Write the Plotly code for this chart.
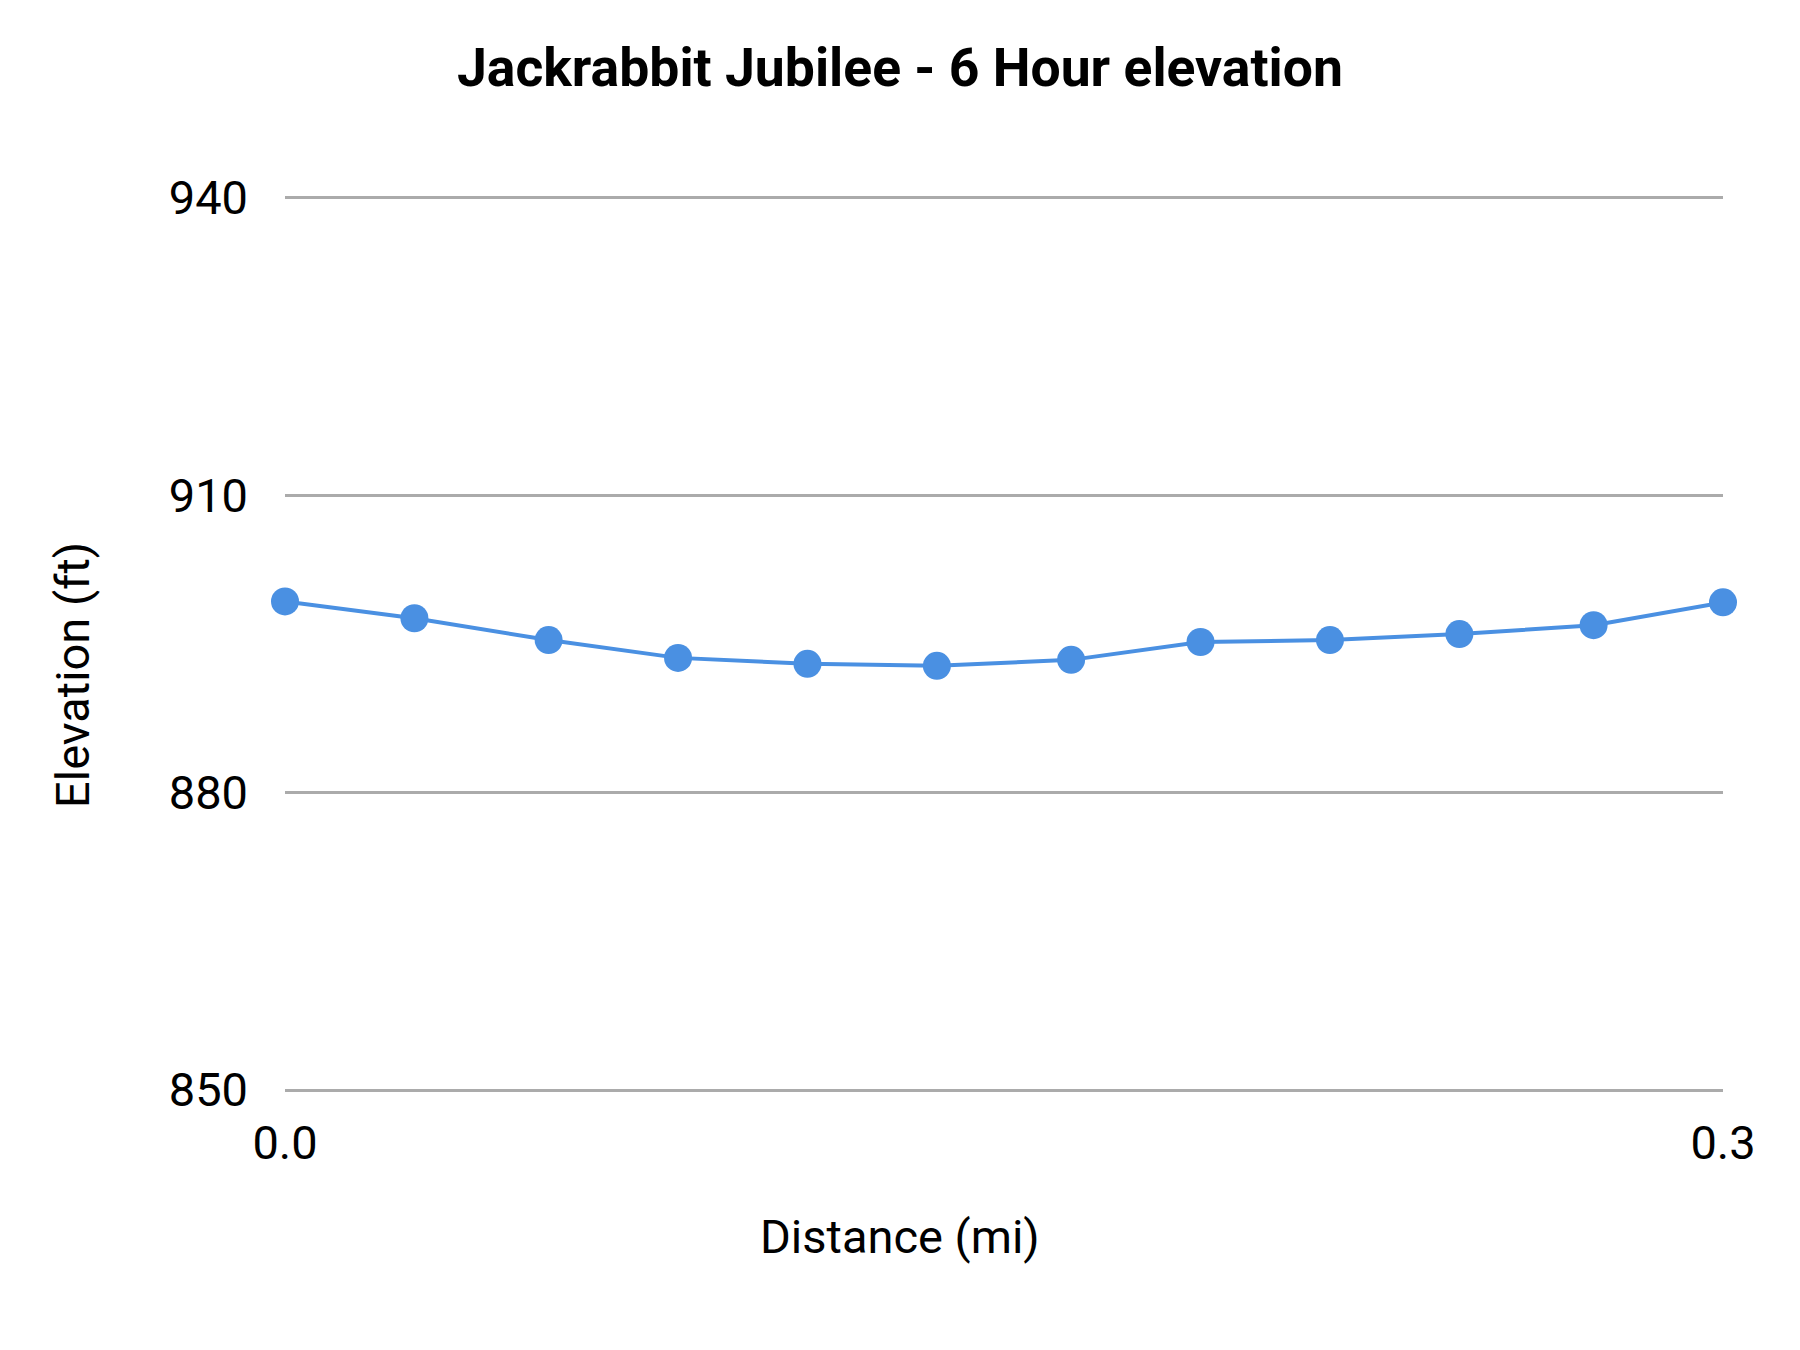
import plotly.graph_objects as go

# elevation profile
distance_mi = [0.0, 0.027, 0.055, 0.082, 0.109, 0.136, 0.164, 0.191, 0.218, 0.245, 0.273, 0.3]
elevation_ft = [899.3, 897.6, 895.4, 893.6, 893.0, 892.8, 893.4, 895.2, 895.4, 896.0, 896.9, 899.2]

y_ticks = [850, 880, 910, 940]
x_ticks = [0.0, 0.3]
x_tick_text = ["0.0", "0.3"]

blue = "#4A90E2"
font = "Roboto"

# page body adds an 8px offset, so margins are shifted by that amount
L, R, T, B = 277, 85, 187, 265

fig = go.Figure()
fig.add_trace(go.Scatter(
    x=distance_mi, y=elevation_ft,
    mode="lines+markers",
    line=dict(color=blue, width=4),
    marker=dict(color=blue, size=28),
    cliponaxis=False,
    showlegend=False,
))

fig.update_layout(
    width=1800, height=1350,
    paper_bgcolor="white", plot_bgcolor="white",
    margin=dict(l=L, r=R, t=T, b=B),
    font=dict(family=font, size=47, color="#000000"),
    title=dict(
        text="<b>Jackrabbit Jubilee - 6 Hour elevation</b>",
        x=0.4955, xref="container", xanchor="center",
        y=1 - 59 / 1350, yref="container", yanchor="middle",
        font=dict(family=font, size=53.5, color="#000000"),
    ),
)

fig.update_xaxes(
    range=[0, 0.3], tickvals=x_ticks, ticktext=x_tick_text,
    showgrid=False, zeroline=False, showline=False,
    ticks="", ticklabelstandoff=18,
)
# range padded a little so the 850 and 940 gridlines are drawn
fig.update_yaxes(
    range=[849.7, 940.3], tickvals=y_ticks,
    showgrid=True, gridcolor="#ABABAB", gridwidth=3,
    zeroline=False, showline=False,
    ticks="", ticklabelstandoff=36,
)

pw = 1800 - L - R
ph = 1350 - T - B

# axis titles are centred on the whole figure, not on the plot area
fig.add_annotation(
    text="Distance (mi)", xref="paper", yref="paper",
    x=(892 - L) / pw, y=(1350 - B - 1228) / ph,
    xanchor="center", yanchor="middle", showarrow=False,
    font=dict(family=font, size=47, color="#000000"),
)
fig.add_annotation(
    text="Elevation (ft)", xref="paper", yref="paper",
    x=(64 - L) / pw, y=(1350 - B - 667) / ph,
    xanchor="center", yanchor="middle", textangle=-90, showarrow=False,
    font=dict(family=font, size=47, color="#000000"),
)

fig.write_html("out.html")
